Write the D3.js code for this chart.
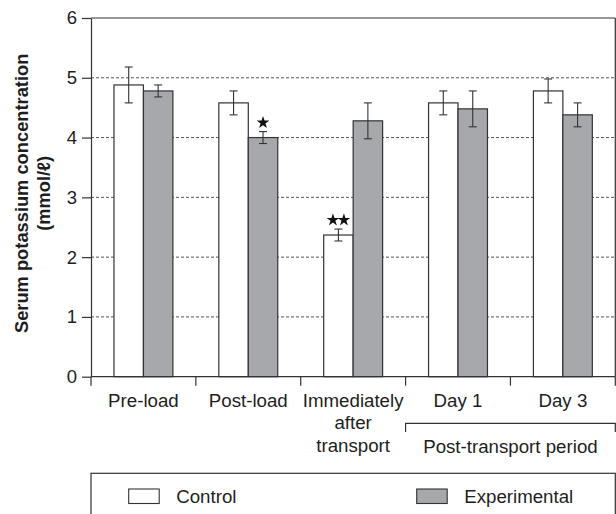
<!DOCTYPE html>
<html><head><meta charset="utf-8">
<script src="https://cdn.jsdelivr.net/npm/d3@7"></script>
<style>
html,body{margin:0;padding:0;background:#fff;}
text{font-family:"Liberation Sans",Arial,Helvetica,sans-serif;fill:#1e1e1e;}
</style></head>
<body>
<svg id="chart" width="616" height="514"></svg>
<script>
const categories = ["Pre-load","Post-load","Immediately after transport","Day 1","Day 3"];
const categoryLines = [["Pre-load"],["Post-load"],["Immediately","after","transport"],["Day 1"],["Day 3"]];
const groups = ["Control","Experimental"];
const controlMeans = [4.88, 4.58, 2.37, 4.58, 4.78];
const controlErrors = [0.30, 0.20, 0.10, 0.20, 0.20];
const experimentalMeans = [4.78, 4.00, 4.28, 4.48, 4.38];
const experimentalErrors = [0.10, 0.10, 0.30, 0.30, 0.20];
const controlStars = [0, 0, 2, 0, 0];
const experimentalStars = [0, 1, 0, 0, 0];
const yTicks = [0,1,2,3,4,5,6];
const yTitle = ["Serum potassium concentration","(mmol/ℓ)"];
const periodLabel = "Post-transport period";
const periodCategories = ["Day 1","Day 3"];

const colors = {Control:"#ffffff", Experimental:"#a7a8ab"};
const FS = 18.7;
const svg = d3.select("#chart");
const L = 91, R = 615.3, T = 18, B = 376.7;

const x = d3.scaleBand().domain(categories).range([L, R]).padding(0);
const xs = d3.scaleBand().domain(groups).range([0, x.bandwidth()]).paddingInner(0).paddingOuter(0.78);
const y = d3.scaleLinear().domain([0,6]).range([B, T]);

const rows = [];
categories.forEach((c,i)=>{
  rows.push({cat:c, g:"Control", v:controlMeans[i], e:controlErrors[i], s:controlStars[i]});
  rows.push({cat:c, g:"Experimental", v:experimentalMeans[i], e:experimentalErrors[i], s:experimentalStars[i]});
});

// gridlines
svg.append("g").selectAll("line").data(yTicks.filter(t=>t>0 && t<6)).join("line")
  .attr("x1", L).attr("x2", R).attr("y1", d=>y(d)).attr("y2", d=>y(d))
  .attr("stroke", "#555").attr("stroke-width", 1).attr("stroke-dasharray", "3,2");

// bars
svg.append("g").selectAll("rect").data(rows).join("rect")
  .attr("x", d=>x(d.cat)+xs(d.g)).attr("width", xs.bandwidth())
  .attr("y", d=>y(d.v)).attr("height", d=>y(0)-y(d.v))
  .attr("fill", d=>colors[d.g]).attr("stroke", "#333").attr("stroke-width", 1.2);

// error bars
const eb = svg.append("g").attr("stroke", "#333").attr("stroke-width", 1.1);
rows.forEach(d=>{
  const cx = x(d.cat)+xs(d.g)+xs.bandwidth()/2;
  eb.append("line").attr("x1",cx).attr("x2",cx).attr("y1",y(d.v+d.e)).attr("y2",y(d.v-d.e));
  eb.append("line").attr("x1",cx-4).attr("x2",cx+4).attr("y1",y(d.v+d.e)).attr("y2",y(d.v+d.e));
  eb.append("line").attr("x1",cx-4).attr("x2",cx+4).attr("y1",y(d.v-d.e)).attr("y2",y(d.v-d.e));
});

// stars
const star = d3.symbol(d3.symbolStar, 50);
rows.filter(d=>d.s>0).forEach(d=>{
  const cx = x(d.cat)+xs(d.g)+xs.bandwidth()/2;
  const cy = y(d.v+d.e) - 10;
  for(let k=0;k<d.s;k++){
    const off = (k-(d.s-1)/2)*11;
    svg.append("path").attr("d", star()).attr("fill","#111")
      .attr("transform", `translate(${cx+off},${cy+1})`);
  }
});

// frame top and right
svg.append("line").attr("x1",L).attr("x2",R).attr("y1",T).attr("y2",T).attr("stroke","#333").attr("stroke-width",1.2);
svg.append("line").attr("x1",R).attr("x2",R).attr("y1",T).attr("y2",B).attr("stroke","#333").attr("stroke-width",1.2);

// y axis
const ya = svg.append("g").attr("transform",`translate(${L},0)`)
  .call(d3.axisLeft(y).tickValues(yTicks).tickSize(9).tickSizeOuter(0).tickPadding(5).tickFormat(d3.format("d")));
ya.select(".domain").attr("stroke","#333").attr("stroke-width",1.2);
ya.selectAll(".tick line").attr("stroke","#333").attr("stroke-width",1.2);
ya.selectAll(".tick text").attr("font-size",18.5).attr("fill","#1e1e1e").style("font-family","'Liberation Sans',Arial,sans-serif");

// x axis baseline & boundary ticks
svg.append("line").attr("x1",L).attr("x2",R).attr("y1",B).attr("y2",B).attr("stroke","#333").attr("stroke-width",1.2);
const bounds = categories.map(c=>x(c)).concat([x.range()[1]]);
svg.append("g").selectAll("line").data(bounds).join("line")
  .attr("x1",d=>d).attr("x2",d=>d).attr("y1",B).attr("y2",B+9)
  .attr("stroke","#333").attr("stroke-width",1.2);

// x labels
categories.forEach((c,i)=>{
  const t = svg.append("text").attr("x", x(c)+x.bandwidth()/2).attr("y", 406.5)
    .attr("text-anchor","middle").attr("font-size",FS);
  categoryLines[i].forEach((ln,j)=>{
    t.append("tspan").attr("x", x(c)+x.bandwidth()/2).attr("dy", j===0?0:22.7).text(ln);
  });
});

// period bracket
const px1 = x(periodCategories[0]), px2 = x(periodCategories[1])+x.bandwidth();
svg.append("path").attr("d",`M${px1},432V423.3H${px2}V432`).attr("fill","none").attr("stroke","#333").attr("stroke-width",1.2);
svg.append("text").attr("x",(px1+px2)/2).attr("y",453.3).attr("text-anchor","middle").attr("font-size",FS).text(periodLabel);

// y title
const yt = svg.append("text").attr("transform",`translate(28,${(T+B)/2-4}) rotate(-90)`)
  .attr("text-anchor","middle").attr("font-size",18.3).attr("font-weight","bold");
yTitle.forEach((ln,j)=>{
  yt.append("tspan").attr("x",0).attr("dy", j===0?0:21.5).text(ln);
});

// legend
svg.append("rect").attr("x",L).attr("y",473.3).attr("width",R-L).attr("height",60)
  .attr("fill","none").attr("stroke","#333").attr("stroke-width",1.2);
const legX = [128.7, 416.7];
groups.forEach((g,i)=>{
  svg.append("rect").attr("x",legX[i]).attr("y",489).attr("width",30.5).attr("height",14.5)
    .attr("fill",colors[g]).attr("stroke","#333").attr("stroke-width",1.1);
  svg.append("text").attr("x",legX[i]+47.5).attr("y",503.3).attr("font-size",FS).text(g);
});
</script>
</body></html>
